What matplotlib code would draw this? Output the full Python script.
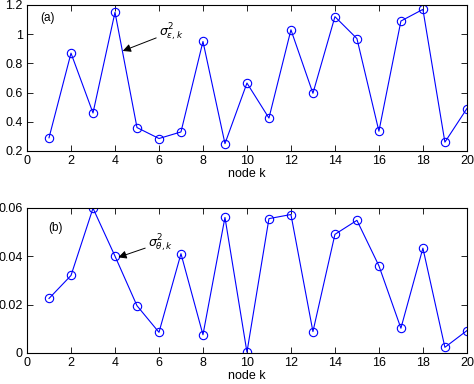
import matplotlib
matplotlib.use("Agg")
import matplotlib.pyplot as plt
import numpy as np

plt.rcParams['font.family'] = ['Liberation Sans', 'DejaVu Sans']
plt.rcParams['font.size'] = 9

# node index
node = np.arange(1, 21)

# noise variances per node
sig_eps = [0.29, 0.87, 0.46, 1.15, 0.36, 0.285, 0.33, 0.95, 0.25, 0.665,
           0.425, 1.03, 0.595, 1.12, 0.97, 0.335, 1.09, 1.17, 0.26, 0.49]
sig_theta = [0.0225, 0.032, 0.0598, 0.040, 0.0195, 0.0085, 0.041, 0.0075, 0.056, 0.0003,
             0.0555, 0.0572, 0.0088, 0.049, 0.0548, 0.036, 0.0102, 0.0433, 0.0023, 0.0092]

f = plt.figure(figsize=(4.74, 3.84), dpi=100)
ax1 = f.add_axes([0.057, 0.607, 0.928, 0.380])
ax2 = f.add_axes([0.057, 0.081, 0.928, 0.378])

for ax in (ax1, ax2):
    ax.tick_params(direction='in', top=True, right=True, length=4, width=0.6, pad=3)
    for s in ax.spines.values():
        s.set_linewidth(0.8)
    ax.set_xlim(0, 20)
    ax.set_xticks(np.arange(0, 21, 2))
    ax.set_xlabel("node k", labelpad=1)

# (a)
ax1.plot(node, sig_eps, 'o-', color='#0000ff', mfc='none', ms=6, lw=0.8, mew=0.8)
ax1.set_ylim(0.2, 1.2)
ax1.set_yticks([0.2, 0.4, 0.6, 0.8, 1, 1.2])
ax1.set_yticklabels(["0.2", "0.4", "0.6", "0.8", "1", "1.2"])
ax1.text(0.6, 1.09, "(a)", fontsize=8.5)
ax1.annotate(r"$\sigma^2_{\epsilon,k}$", xy=(4.35, 0.885), xytext=(6.0, 0.99),
             fontsize=9,
             arrowprops=dict(arrowstyle='-|>', color='black', lw=0.7,
                             mutation_scale=12, shrinkA=0, shrinkB=0))

# (b)
ax2.plot(node, sig_theta, 'o-', color='#0000ff', mfc='none', ms=6, lw=0.8, mew=0.8)
ax2.set_ylim(0, 0.06)
ax2.set_yticks([0, 0.02, 0.04, 0.06])
ax2.set_yticklabels(["0", "0.02", "0.04", "0.06"])
ax2.text(0.95, 0.0505, "(b)", fontsize=8.5)
ax2.annotate(r"$\sigma^2_{\theta,k}$", xy=(4.15, 0.0395), xytext=(5.5, 0.044),
             fontsize=9,
             arrowprops=dict(arrowstyle='-|>', color='black', lw=0.7,
                             mutation_scale=12, shrinkA=0, shrinkB=0))

plt.savefig("out.png", dpi=100)
